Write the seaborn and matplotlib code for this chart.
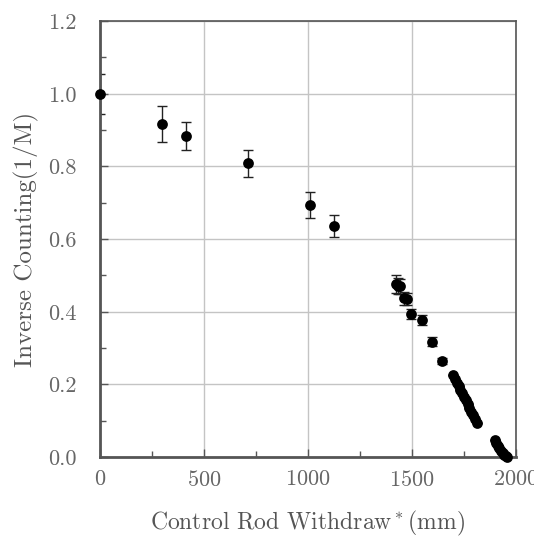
import numpy as np
import pandas as pd
import matplotlib
matplotlib.use("Agg")
import matplotlib.pyplot as plt
import seaborn as sns
from matplotlib.ticker import MultipleLocator

# Data
withdraw_mm = [0, 300, 416, 713, 1011, 1126,
               1422, 1432, 1442, 1462, 1478, 1498, 1548, 1598, 1647,
               1700, 1708, 1716, 1725, 1733, 1742, 1750, 1759, 1768,
               1776, 1785, 1794, 1802, 1811,
               1898, 1905, 1913, 1921, 1929, 1937, 1945, 1952, 1958]
inv_count = [1.000, 0.916, 0.884, 0.809, 0.694, 0.637,
             0.476, 0.472, 0.470, 0.437, 0.435, 0.394, 0.377, 0.318, 0.265,
             0.225, 0.215, 0.205, 0.196, 0.186, 0.176, 0.166, 0.156, 0.146,
             0.135, 0.125, 0.115, 0.105, 0.095,
             0.047, 0.040, 0.032, 0.025, 0.018, 0.012, 0.007, 0.003, 0.001]
inv_err = [0.055, 0.050, 0.038, 0.037, 0.035, 0.030,
           0.025, 0.022, 0.020, 0.018, 0.017, 0.015, 0.014, 0.012, 0.008,
           0, 0, 0, 0, 0, 0, 0, 0, 0,
           0, 0, 0, 0, 0,
           0, 0, 0, 0, 0, 0, 0, 0, 0]

df = pd.DataFrame({"Withdraw": withdraw_mm, "Inverse": inv_count, "Err": inv_err})

sns.set_style("ticks")
plt.rcParams["font.family"] = ["cmr10", "DejaVu Serif"]
plt.rcParams["mathtext.fontset"] = "cm"
plt.rcParams["axes.unicode_minus"] = False
plt.rcParams["axes.formatter.use_mathtext"] = True

fig = plt.figure(figsize=(5.34, 5.41), dpi=100)
ax = fig.add_axes([0.187, 0.155, 0.779, 0.806])

ax.grid(True, which="major", color="#c4c4c4", linewidth=1.0)
ax.set_axisbelow(True)

ax.errorbar(df["Withdraw"], df["Inverse"], yerr=df["Err"], fmt="none",
            ecolor="#222222", elinewidth=1.0, capsize=3.5, capthick=1.0, zorder=2)
sns.scatterplot(data=df, x="Withdraw", y="Inverse", ax=ax, color="black",
                s=60, edgecolor="black", linewidth=0, zorder=3, clip_on=False)

ax.set_xlim(0, 2000)
ax.set_ylim(0, 1.2)
ax.xaxis.set_major_locator(MultipleLocator(500))
ax.xaxis.set_minor_locator(MultipleLocator(250))
ax.yaxis.set_major_locator(MultipleLocator(0.2))
ax.yaxis.set_minor_locator(MultipleLocator(0.1))
ax.yaxis.set_major_formatter(matplotlib.ticker.FormatStrFormatter("%.1f"))

ax.tick_params(which="both", direction="in", colors="#555555", labelcolor="#666666",
               labelsize=16, top=False, right=False)
ax.tick_params(which="major", length=6, width=1.0)
ax.tick_params(which="minor", length=4, width=1.0)
ax.tick_params(axis="x", which="major", pad=9)
ax.tick_params(axis="y", which="major", pad=17)

for side, sp in ax.spines.items():
    sp.set_color("#555555")
    sp.set_linewidth(1.2)
ax.spines["left"].set_linewidth(2.0)
ax.spines["bottom"].set_linewidth(2.0)

ax.set_xlabel("Control Rod Withdraw$^*$(mm)", fontsize=17, color="#555555", labelpad=14)
ax.set_ylabel("Inverse Counting(1/M)", fontsize=18, color="#555555", labelpad=6)

fig.savefig("out.png", dpi=100)
